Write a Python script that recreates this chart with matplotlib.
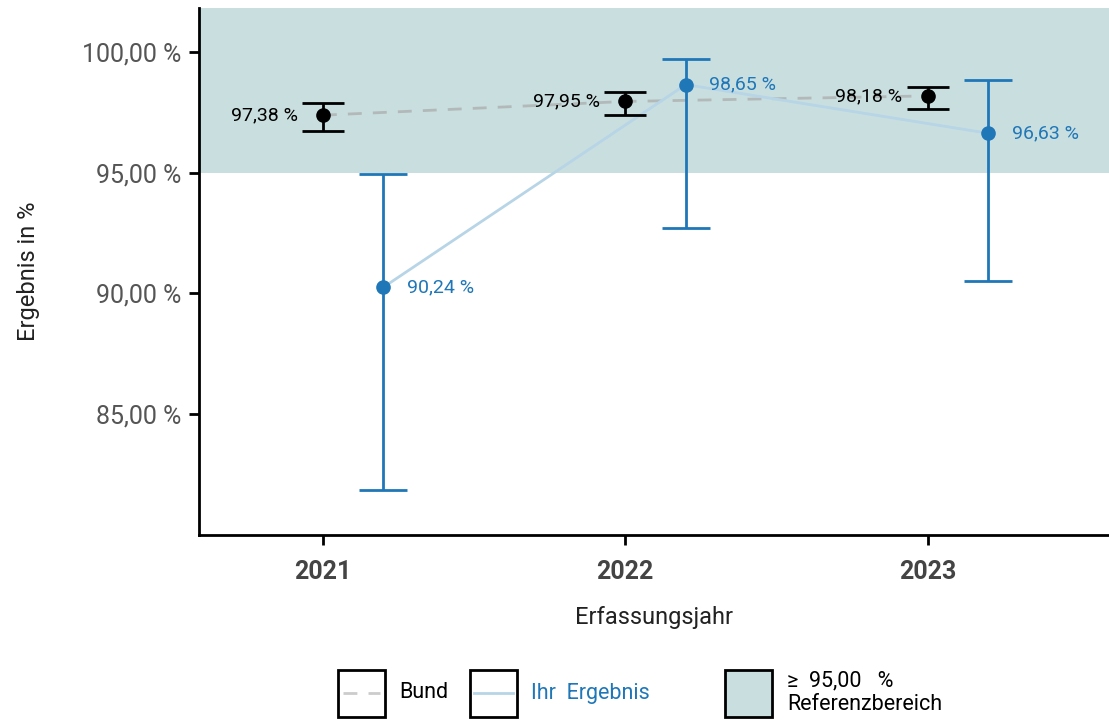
import matplotlib
matplotlib.use("Agg")
import matplotlib.pyplot as plt
from matplotlib.patches import Rectangle
from matplotlib.lines import Line2D
import numpy as np

plt.rcParams['font.family'] = ['Roboto', 'DejaVu Sans']

years = [2021, 2022, 2023]
bund = [97.38, 97.95, 98.18]
bund_lo = [96.72, 97.39, 97.63]
bund_hi = [97.88, 98.34, 98.55]
ihr = [90.24, 98.65, 96.63]
ihr_lo = [81.83, 92.70, 90.50]
ihr_hi = [94.94, 99.71, 98.84]
ref_lower = 95.0
yticks = [85, 90, 95, 100]

def fmt(v):
    return f"{v:.2f}".replace(".", ",") + " %"

shade = "#c9dedf"
blue = "#1f77b8"
lightblue = "#b7d5e6"
grey = "#b3b9b9"

fig = plt.figure(figsize=(11.09, 7.22), dpi=100)
ax = fig.add_axes([0.1794, 0.259, 0.8206, 0.730])

x = np.array(years, dtype=float)
xi = x + 0.2

ax.axhspan(ref_lower, 102, color=shade, zorder=0, lw=0)

ax.plot(x, bund, ls=(0, (5, 4)), color=grey, lw=2, zorder=1)
ax.plot(xi, ihr, color=lightblue, lw=2, zorder=1)

b = np.array(bund)
ax.errorbar(x, b, yerr=[b - np.array(bund_lo), np.array(bund_hi) - b],
            fmt='o', color='black', ms=9.5, capsize=15, capthick=2, elinewidth=2, zorder=3)
i = np.array(ihr)
ax.errorbar(xi, i, yerr=[i - np.array(ihr_lo), np.array(ihr_hi) - i],
            fmt='o', color=blue, ms=9.5, capsize=17, capthick=2, elinewidth=2, zorder=3)

for xx, v in zip(x, bund):
    ax.annotate(fmt(v), (xx, v), xytext=(-18, 0), textcoords='offset points',
                ha='right', va='center', fontsize=14, color='black', zorder=4)
for xx, v in zip(xi, ihr):
    ax.annotate(fmt(v), (xx, v), xytext=(17, 0), textcoords='offset points',
                ha='left', va='center', fontsize=14, color=blue, zorder=4)

ax.set_xlim(2020.59, 2023.6)
ax.set_ylim(79.96, 101.83)
ax.set_xticks(years)
ax.set_xticklabels([str(y) for y in years], fontsize=18, fontweight='bold', color='#444444')
ax.set_yticks(yticks)
ax.set_yticklabels([fmt(v) for v in yticks], fontsize=18, color='#555555')
ax.tick_params(axis='both', length=7, width=2, color='black')
ax.tick_params(axis='x', pad=11)
ax.tick_params(axis='y', pad=6)
for s in ['top', 'right']:
    ax.spines[s].set_visible(False)
for s in ['left', 'bottom']:
    ax.spines[s].set_linewidth(2)

ax.set_xlabel("Erfassungsjahr", fontsize=17, color='#222222', labelpad=16)
ax.set_ylabel("Ergebnis in %", fontsize=17, color='#222222', labelpad=30)

# legend drawn in figure pixels
W, H = 1109, 722
def box(x0, y0, fc='white'):
    fig.add_artist(Rectangle((x0 / W, 1 - (y0 + 47) / H), 47 / W, 47 / H,
                             transform=fig.transFigure, fc=fc, ec='black', lw=2))

box(338, 670)
fig.add_artist(Line2D([343 / W, 380 / W], [1 - 693 / H] * 2, transform=fig.transFigure,
                      color='#cccccc', lw=2, ls=(0, (5, 4))))
fig.text(399 / W, 1 - 693 / H, "Bund", fontsize=15.5, va='center', ha='left', color='black')
box(470, 670)
fig.add_artist(Line2D([474 / W, 513 / W], [1 - 693 / H] * 2, transform=fig.transFigure,
                      color=lightblue, lw=2))
fig.text(531 / W, 1 - 693 / H, "Ihr  Ergebnis", fontsize=15.5, va='center', ha='left', color=blue)
box(725, 670, fc=shade)
fig.text(787 / W, 1 - 681 / H, "≥  95,00   %", fontsize=15.5, va='center', ha='left', color='black')
fig.text(787 / W, 1 - 704 / H, "Referenzbereich", fontsize=15.5, va='center', ha='left', color='black')

fig.savefig("out.png", dpi=100)
